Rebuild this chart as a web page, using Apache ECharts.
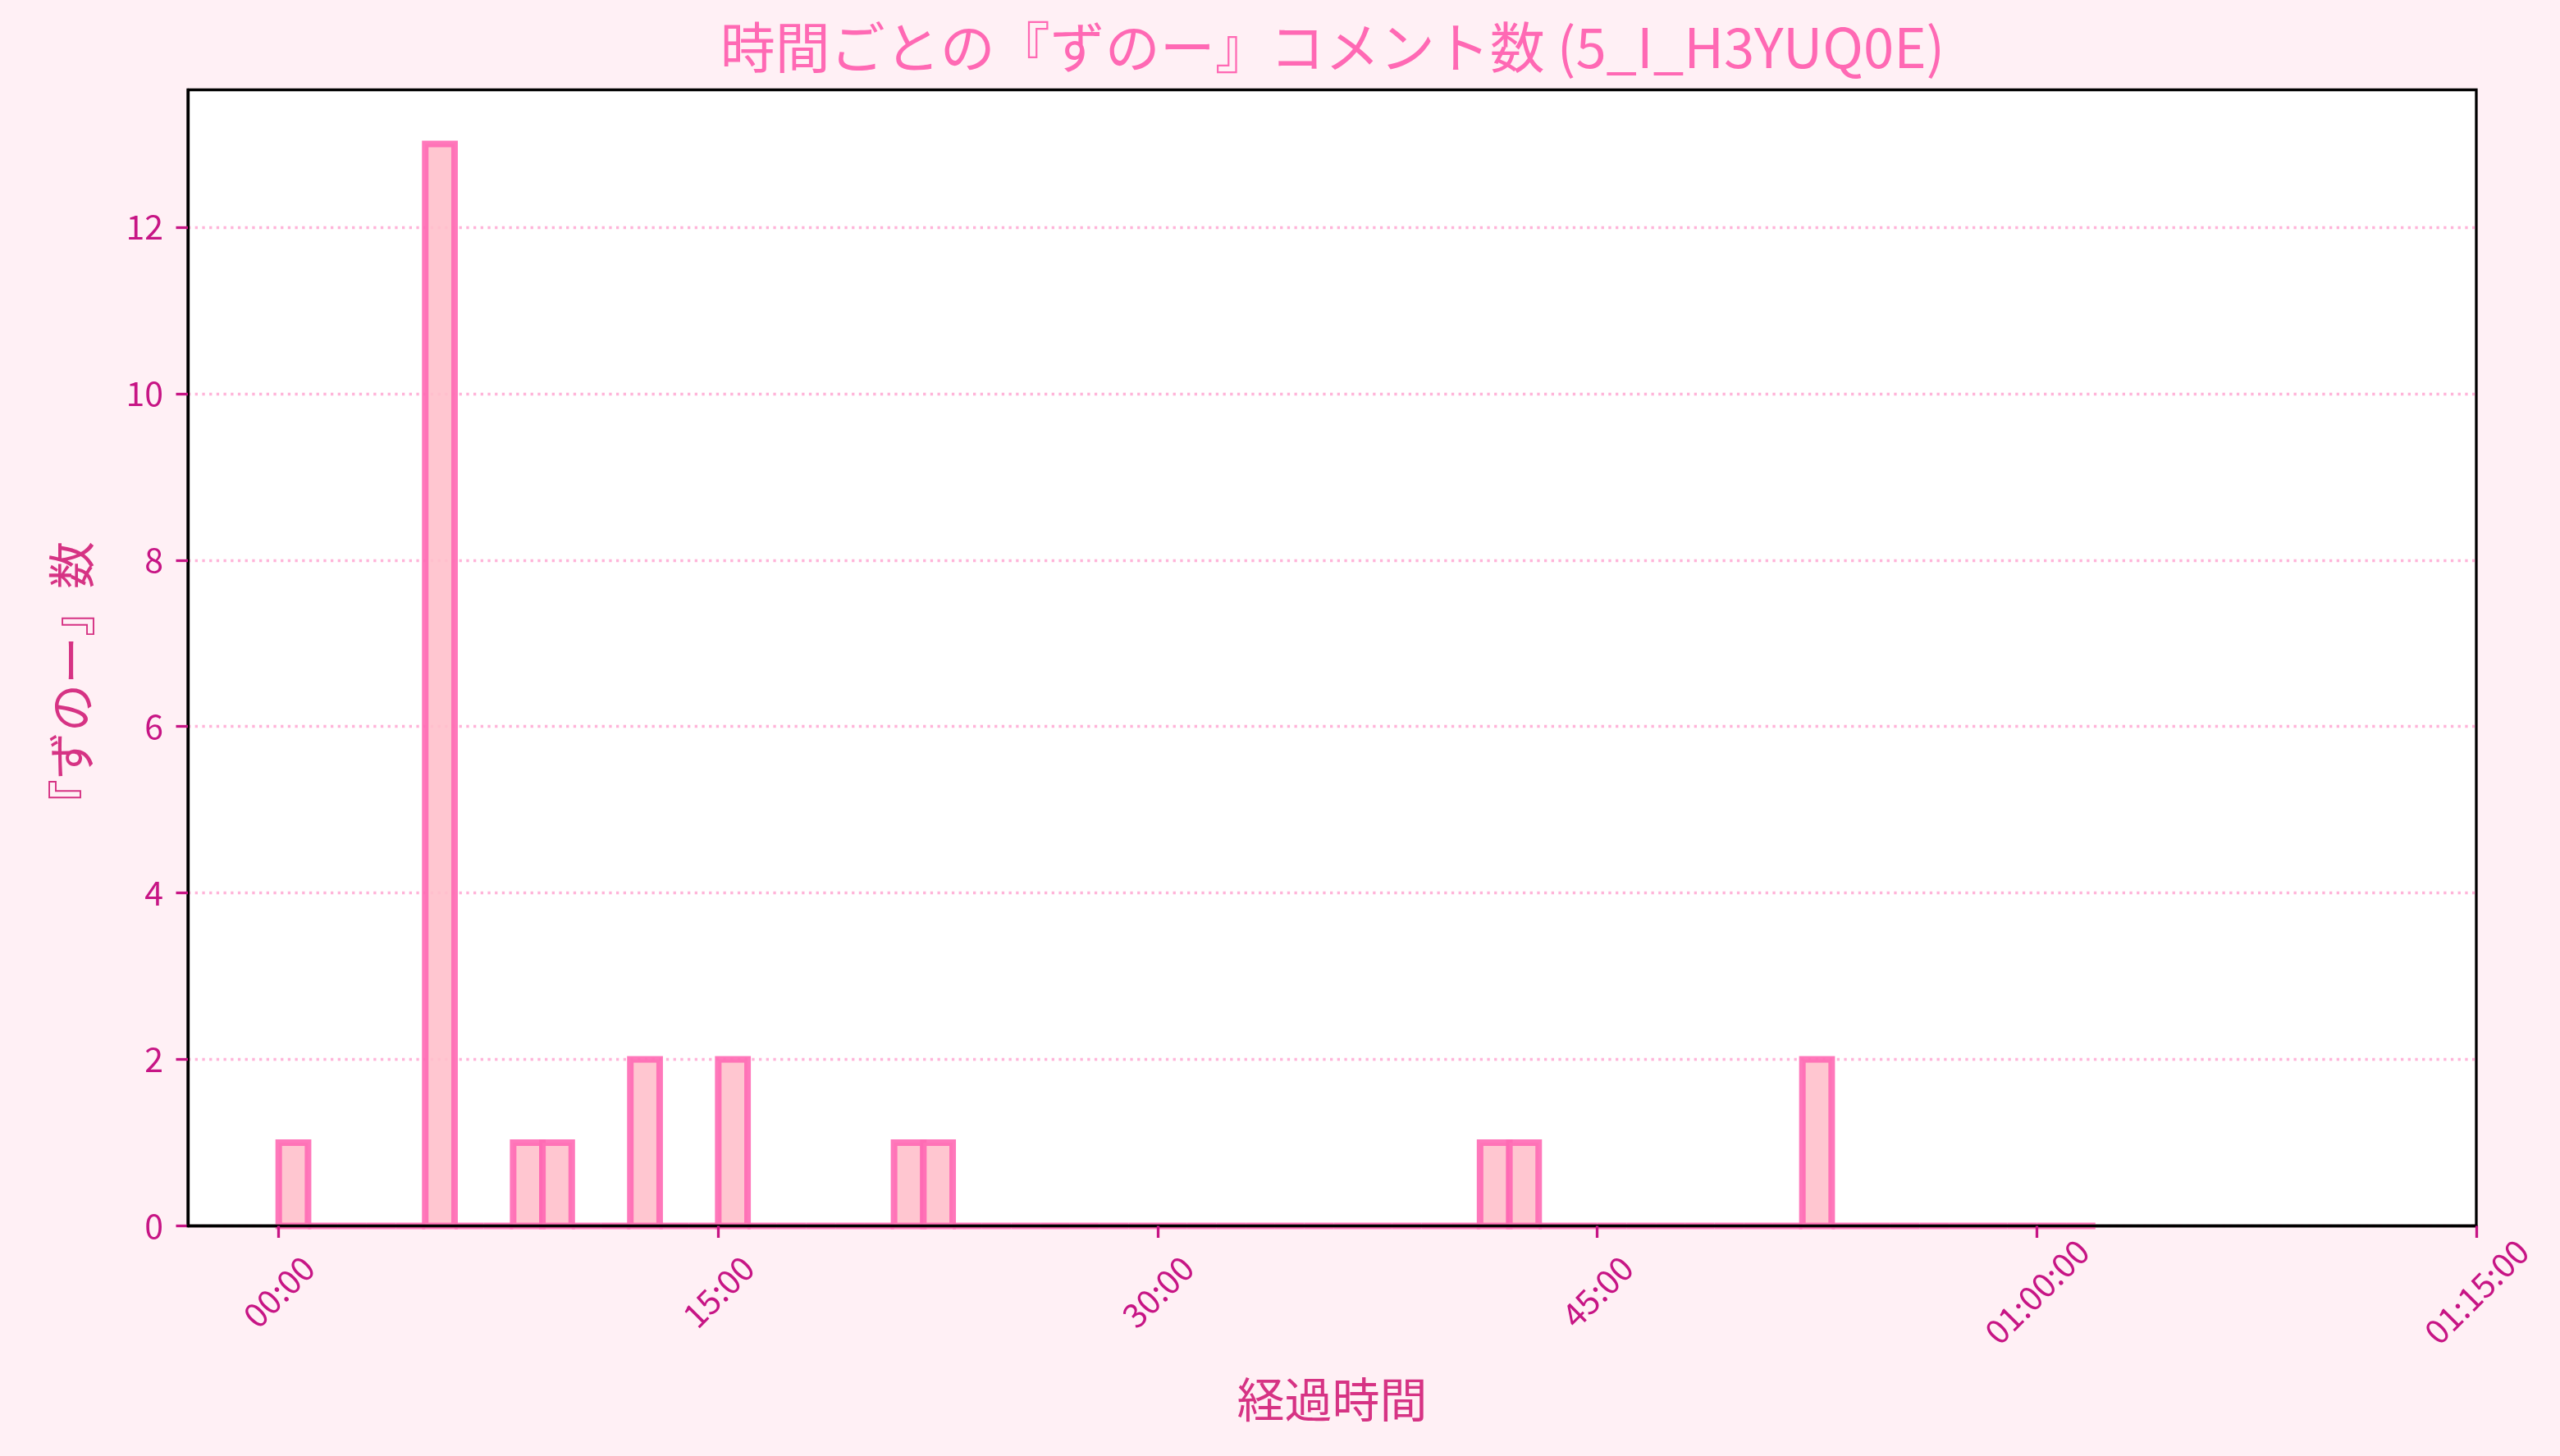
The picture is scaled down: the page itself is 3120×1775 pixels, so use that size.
<!DOCTYPE html>
<html>
<head>
<meta charset="utf-8">
<script src="https://cdn.jsdelivr.net/npm/echarts@6/dist/echarts.min.js"></script>
<style>
html,body{margin:0;padding:0;background:#fff0f5;}
#chart{width:3120px;height:1775px;}
</style>
</head>
<body>
<div id="chart"></div>
<script>
// ---- data ----
const titleText = '時間ごとの『ずのー』コメント数 (5_I_H3YUQ0E)';
const xName = '経過時間';
const yName = '『ずのー』数';
// bin start (minutes), each bin is one minute wide
const binStartMin = [
  0,1,2,3,4,5,6,7,8,9,
  10,11,12,13,14,15,16,17,18,19,
  20,21,22,23,24,25,26,27,28,29,
  30,31,32,33,34,35,36,37,38,39,
  40,41,42,43,44,45,46,47,48,49,
  50,51,52,53,54,55,56,57,58,59,
  60,61
];
const counts = [
  1,0,0,0,0,13,0,0,1,1,
  0,0,2,0,0,2,0,0,0,0,
  0,1,1,0,0,0,0,0,0,0,
  0,0,0,0,0,0,0,0,0,0,
  0,1,1,0,0,0,0,0,0,0,
  0,0,2,0,0,0,0,0,0,0,
  0,0
];
const binWidthSec = 60;
const xTickValues = [0, 900, 1800, 2700, 3600, 4500];
const xTickLabels = ['00:00', '15:00', '30:00', '45:00', '01:00:00', '01:15:00'];
const yTickValues = [0, 2, 4, 6, 8, 10, 12];

const histData = binStartMin.map((m, i) => [m * 60, m * 60 + binWidthSec, counts[i]]);

const chart = echarts.init(document.getElementById('chart'));
const tickColor = '#c71585';
const labelColor = '#d63384';
const font = '"Noto Sans CJK JP", "Noto Sans", sans-serif';

chart.setOption({
  backgroundColor: '#fff0f5',
  animation: false,
  graphic: [{
    type: 'text',
    x: 1624, y: 58,
    style: {
      text: titleText,
      font: '67px ' + font,
      fill: '#ff69b4',
      align: 'center',
      verticalAlign: 'middle'
    }
  }],
  grid: {
    left: 229, right: 102, top: 109.5, bottom: 280.5,
    show: true,
    backgroundColor: '#ffffff',
    borderColor: '#000000',
    borderWidth: 3.3
  },
  xAxis: {
    type: 'value',
    min: -186, max: 4500,
    z: 5,
    name: xName,
    nameLocation: 'middle',
    nameGap: 182,
    nameTextStyle: { fontFamily: font, fontSize: 58, color: labelColor },
    axisLine: { show: true, onZero: false, lineStyle: { color: '#000', width: 3.3 } },
    axisTick: { show: true, customValues: xTickValues, length: 14.5, lineStyle: { color: tickColor, width: 3.3 } },
    axisLabel: {
      customValues: xTickValues,
      formatter: v => { const i = xTickValues.indexOf(v); return i >= 0 ? xTickLabels[i] : ''; },
      rotate: 45,
      align: 'center',
      verticalAlign: 'middle',
      margin: 80,
      fontFamily: font, fontSize: 41, color: tickColor
    },
    splitLine: { show: false }
  },
  yAxis: {
    type: 'value',
    min: 0, max: 13.65, interval: 2,
    name: yName,
    nameLocation: 'middle',
    nameRotate: 90,
    nameGap: 113,
    nameTextStyle: { fontFamily: font, fontSize: 58, color: labelColor, padding: [0, 64, 0, 0] },
    axisLine: { show: true, onZero: false, lineStyle: { color: '#000', width: 3.3 } },
    axisTick: { show: true, customValues: yTickValues, length: 14.5, lineStyle: { color: tickColor, width: 3.3 } },
    axisLabel: { customValues: yTickValues, margin: 30, fontFamily: font, fontSize: 41, color: tickColor },
    splitLine: { show: true, lineStyle: { color: 'rgba(255,105,180,0.5)', width: 3.3, type: [3.3, 5.4] } }
  },
  series: [{
    type: 'custom',
    z: 2,
    encode: { x: [0, 1], y: 2 },
    data: histData,
    renderItem: (params, api) => {
      const p0 = api.coord([api.value(0), 0]);
      const p1 = api.coord([api.value(1), api.value(2)]);
      return {
        type: 'rect',
        shape: { x: p0[0], y: p1[1], width: p1[0] - p0[0], height: p0[1] - p1[1] },
        style: {
          fill: 'rgba(255,192,203,0.9)',
          stroke: 'rgba(255,105,180,0.9)',
          lineWidth: 8,
          lineJoin: 'miter'
        }
      };
    }
  }]
});
</script>
</body>
</html>
